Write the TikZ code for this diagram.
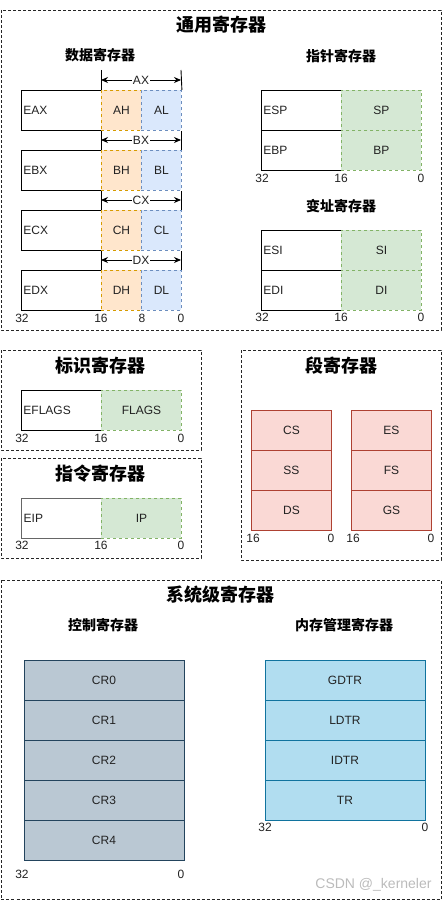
\documentclass[tikz,border=0pt]{standalone}
\usepackage{fontspec}
\setmainfont{Liberation Sans}
\newfontfamily\cjk{Noto Sans CJK SC}
\usetikzlibrary{arrows.meta}
\definecolor{txt}{HTML}{222222}
\definecolor{ahfill}{HTML}{FFE6CC}
\definecolor{ahdraw}{HTML}{D79B00}
\definecolor{alfill}{HTML}{DAE8FC}
\definecolor{aldraw}{HTML}{6C8EBF}
\definecolor{gfill}{HTML}{D5E8D4}
\definecolor{gdraw}{HTML}{82B366}
\definecolor{sfill}{HTML}{FAD9D5}
\definecolor{sdraw}{HTML}{AE4132}
\definecolor{cfill}{HTML}{BAC8D3}
\definecolor{cdraw}{HTML}{23445D}
\definecolor{mfill}{HTML}{B1DDF0}
\definecolor{mdraw}{HTML}{10739E}
\definecolor{eipdraw}{HTML}{666666}
\definecolor{wm}{HTML}{BBBBBB}
\tikzset{
  grp/.style={draw=black!85, dash pattern=on 3pt off 2pt, line width=0.9pt},
  reg/.style={rectangle, minimum width=80pt, minimum height=40pt, anchor=north west,
    inner sep=0pt, font=\fontsize{12}{14}\selectfont, text=txt, line width=0.9pt},
  wreg/.style={reg, draw=black, fill=white, inner xsep=2pt, text width=76pt, align=left},
  hreg/.style={reg, minimum width=40pt, fill=ahfill, draw=ahdraw, dashed},
  lreg/.style={reg, minimum width=40pt, fill=alfill, draw=aldraw, dashed},
  greg/.style={reg, fill=gfill, draw=gdraw, dashed},
  sreg/.style={reg, fill=sfill, draw=sdraw},
  creg/.style={reg, minimum width=160pt, fill=cfill, draw=cdraw},
  mreg/.style={reg, minimum width=160pt, fill=mfill, draw=mdraw},
  num/.style={font=\fontsize{12}{14}\selectfont, text=txt, inner sep=0pt},
  ttl/.style={font=\cjk\bfseries\fontsize{18}{20}\selectfont, inner sep=0pt},
  sub/.style={font=\cjk\bfseries\fontsize{14}{16}\selectfont, inner sep=0pt},
  dim/.style={{Stealth[length=7pt,width=6pt]}-{Stealth[length=7pt,width=6pt]}, line width=0.9pt},
  dimlbl/.style={fill=white, inner sep=1pt, font=\fontsize{12}{14}\selectfont, text=txt},
  tick/.style={line width=0.9pt}
}
\begin{document}
\begin{tikzpicture}[x=1pt,y=-1pt]
\useasboundingbox (0,0) rectangle (447,901);

% ===== group boxes =====
\draw[grp] (1,10) rectangle (441,330);
\draw[grp] (1,350) rectangle (201,450);
\draw[grp] (1,458) rectangle (201,558);
\draw[grp] (241,350) rectangle (441,560);
\draw[grp] (1,580) rectangle (441,899.5);

% ===== titles =====
\node[ttl] (t1) at (221,25) {通用寄存器};
\node[sub] (t1a) at (100,55.5) {数据寄存器};
\node[sub] (t1b) at (341,56.5) {指针寄存器};
\node[sub] (t1c) at (341,206.5) {变址寄存器};
\node[ttl] (t2) at (100,365.5) {标识寄存器};
\node[ttl] (t3) at (100,474) {指令寄存器};
\node[ttl] (t4) at (341,366) {段寄存器};
\node[ttl] (t5) at (220,595) {系统级寄存器};
\node[sub] (t5a) at (103,625) {控制寄存器};
\node[sub] (t5b) at (344,625) {内存管理寄存器};

% ===== data registers =====
\node[wreg] (eax) at (21,90) {EAX};
\node[hreg] (ah) at (101,90) {AH};
\node[lreg] (al) at (141,90) {AL};
\node[wreg] (ebx) at (21,150) {EBX};
\node[hreg] (bh) at (101,150) {BH};
\node[lreg] (bl) at (141,150) {BL};
\node[wreg] (ecx) at (21,210) {ECX};
\node[hreg] (ch) at (101,210) {CH};
\node[lreg] (cl) at (141,210) {CL};
\node[wreg] (edx) at (21,270) {EDX};
\node[hreg] (dh) at (101,270) {DH};
\node[lreg] (dl) at (141,270) {DL};

\coordinate (axtl) at (101,70);
\coordinate (axtr) at (181,70);
\draw[tick] (axtl) -- (ah.north west);
\draw[tick] (axtr) -- (al.north east);
\coordinate (axl) at (101,80);
\coordinate (axr) at (181,80);
\draw[dim] (axl) -- node[dimlbl] (axlbl) {AX} (axr);

\draw[tick] (ah.south west) -- (bh.north west);
\draw[tick] (al.south east) -- (bl.north east);
\coordinate (bxl) at (101,140);
\coordinate (bxr) at (181,140);
\draw[dim] (bxl) -- node[dimlbl] (bxlbl) {BX} (bxr);

\draw[tick] (bh.south west) -- (ch.north west);
\draw[tick] (bl.south east) -- (cl.north east);
\coordinate (cxl) at (101,200);
\coordinate (cxr) at (181,200);
\draw[dim] (cxl) -- node[dimlbl] (cxlbl) {CX} (cxr);

\draw[tick] (ch.south west) -- (dh.north west);
\draw[tick] (cl.south east) -- (dl.north east);
\coordinate (dxl) at (101,260);
\coordinate (dxr) at (181,260);
\draw[dim] (dxl) -- node[dimlbl] (dxlbl) {DX} (dxr);

\node[num] (d32) at (22,318) {32};
\node[num] (d16) at (101,318) {16};
\node[num] (d8) at (142,318) {8};
\node[num] (d0) at (181,318) {0};

% ===== pointer registers =====
\node[wreg] (esp) at (261,90) {ESP};
\node[greg] (sp) at (341,90) {SP};
\node[wreg] (ebp) at (261,130) {EBP};
\node[greg] (bp) at (341,130) {BP};
\node[num] (p32) at (262,178.5) {32};
\node[num] (p16) at (341,178.5) {16};
\node[num] (p0) at (421,178.5) {0};

% ===== index registers =====
\node[wreg] (esi) at (261,230) {ESI};
\node[greg] (si) at (341,230) {SI};
\node[wreg] (edi) at (261,270) {EDI};
\node[greg] (di) at (341,270) {DI};
\node[num] (i32) at (262,317) {32};
\node[num] (i16) at (341,317) {16};
\node[num] (i0) at (421,317) {0};

% ===== flags =====
\node[wreg] (eflags) at (21,390) {EFLAGS};
\node[greg] (flags) at (101,390) {FLAGS};
\node[num] (f32) at (22,438.5) {32};
\node[num] (f16) at (101,438.5) {16};
\node[num] (f0) at (181,438.5) {0};

% ===== instruction pointer =====
\node[wreg, draw=eipdraw, line width=1.4pt] (eip) at (21,498) {EIP};
\node[greg] (ip) at (101,498) {IP};
\node[num] (e32) at (22,545.5) {32};
\node[num] (e16) at (101,545.5) {16};
\node[num] (e0) at (181,545.5) {0};

% ===== segment registers =====
\node[sreg] (cs) at (251,410) {CS};
\node[sreg] (ss) at (251,450) {SS};
\node[sreg] (ds) at (251,490) {DS};
\node[sreg] (es) at (351,410) {ES};
\node[sreg] (fs) at (351,450) {FS};
\node[sreg] (gs) at (351,490) {GS};
\node[num] (s16a) at (253,538.5) {16};
\node[num] (s0a) at (331,538.5) {0};
\node[num] (s16b) at (353,538.5) {16};
\node[num] (s0b) at (431,538.5) {0};

% ===== control registers =====
\node[creg] (cr0) at (23.5,660) {CR0};
\node[creg] (cr1) at (23.5,700) {CR1};
\node[creg] (cr2) at (23.5,740) {CR2};
\node[creg] (cr3) at (23.5,780) {CR3};
\node[creg] (cr4) at (23.5,820) {CR4};
\node[num] (c32) at (22,874) {32};
\node[num] (c0) at (181,874) {0};

% ===== memory management registers =====
\node[mreg] (gdtr) at (264.5,660) {GDTR};
\node[mreg] (ldtr) at (264.5,700) {LDTR};
\node[mreg] (idtr) at (264.5,740) {IDTR};
\node[mreg] (tr) at (264.5,780) {TR};
\node[num] (m32) at (265,827.5) {32};
\node[num] (m0) at (425,827.5) {0};

% ===== watermark =====
\node[font=\fontsize{14}{16}\selectfont, text=wm, inner sep=0pt] (wmk) at (373.5,885) {CSDN @\_kerneler};
\end{tikzpicture}
\end{document}
